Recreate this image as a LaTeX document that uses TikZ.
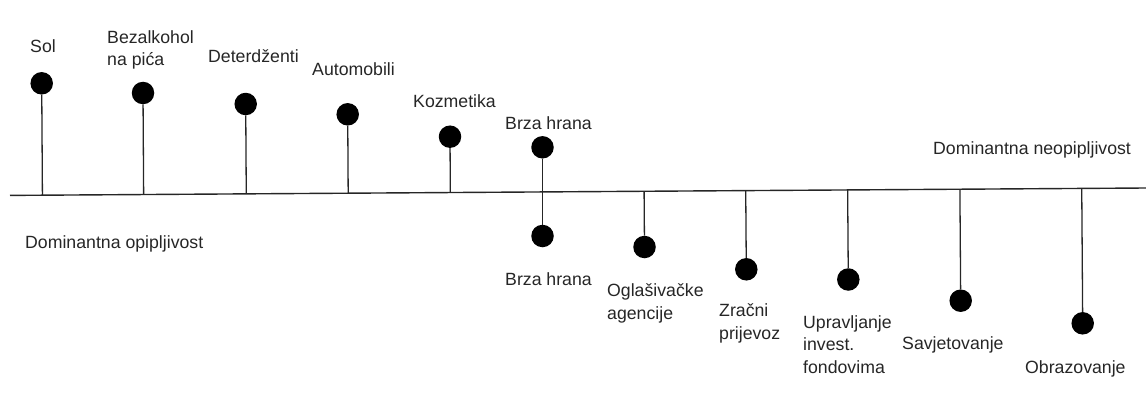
\documentclass[tikz,border=0pt]{standalone}
\usepackage{fontspec}
\setmainfont{Liberation Sans}
\usetikzlibrary{calc}
\begin{document}
\begin{tikzpicture}[x=1pt,y=-1pt,
  dot/.style={circle,fill=black,draw=none,minimum size=22.5pt,inner sep=0pt},
  lbl/.style={anchor=base west,inner sep=0pt,align=left,text=black!85,
    font=\fontsize{17.7}{22.5}\selectfont},
  axisline/.style={line width=1.4pt,black!85},
  stem/.style={line width=1.3pt,black!85}]
\useasboundingbox (0,0) rectangle (1146,396);
% baseline
\coordinate (L1) at (10,195.4);
\coordinate (L2) at (1146,188);
\draw[axisline] (L1) -- (L2);
% dots above
\node[dot] (sol) at (41.7,83.3) {};
\node[dot] (bez) at (143,93) {};
\node[dot] (det) at (245.7,104) {};
\node[dot] (aut) at (347.7,114.3) {};
\node[dot] (koz) at (450,136.7) {};
\node[dot] (bht) at (542.5,147.3) {};
% dots below
\node[dot] (bhb) at (542.5,236) {};
\node[dot] (ogl) at (644.5,247) {};
\node[dot] (zra) at (746.3,269.3) {};
\node[dot] (upr) at (848.3,279.5) {};
\node[dot] (sav) at (960.7,300.7) {};
\node[dot] (obr) at (1082.7,323.3) {};
% stems
\foreach \d in {sol,bez,det,aut,koz,ogl,zra,upr,sav,obr}
  \draw[stem] (\d) -- ($(L1)!(\d)!(L2)$);
\draw[stem] (bht) -- (bhb);
% labels (base = last line)
\node[lbl] (tsol) at (30,53) {Sol};
\node[lbl] (tbez) at (107,66) {Bezalkohol\\na pića};
\node[lbl] (tdet) at (208,63) {Deterdženti};
\node[lbl] (taut) at (312,76) {Automobili};
\node[lbl] (tkoz) at (413,107) {Kozmetika};
\node[lbl] (tbht) at (505,129) {Brza hrana};
\node[lbl] (tneo) at (933,154) {Dominantna neopipljivost};
\node[lbl] (topi) at (25,248) {Dominantna opipljivost};
\node[lbl] (tbhb) at (505,285) {Brza hrana};
\node[lbl] (togl) at (607,319) {Oglašivačke\\agencije};
\node[lbl] (tzra) at (719,339) {Zračni\\prijevoz};
\node[lbl] (tupr) at (803,373) {Upravljanje\\invest.\\fondovima};
\node[lbl] (tsav) at (902,349) {Savjetovanje};
\node[lbl] (tobr) at (1025,373) {Obrazovanje};
\end{tikzpicture}
\end{document}
